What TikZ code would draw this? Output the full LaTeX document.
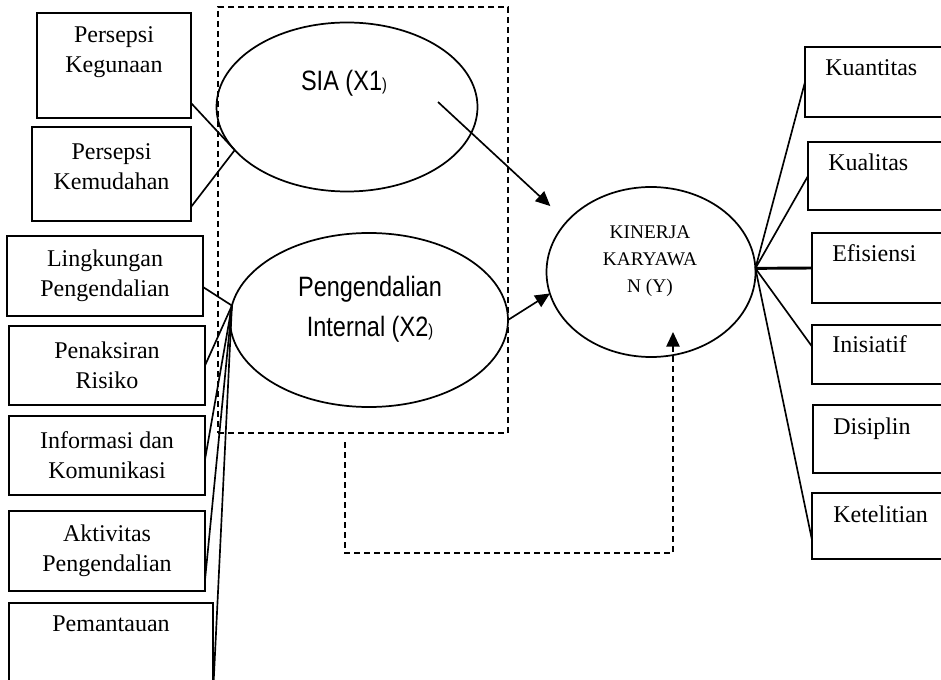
\documentclass[tikz,border=0pt]{standalone}
\usepackage{fontspec}
\setmainfont{Liberation Serif}
\newfontfamily\narrowsans[FakeStretch=0.84]{Liberation Sans}
\usetikzlibrary{arrows.meta,calc,shapes.geometric}
\tikzset{
  indbox/.style={
    draw,
    line width=1.4pt,
    inner sep=0pt,
    outer sep=0pt,
    align=center,
    font=\fontsize{18}{22.5}\selectfont
  },
  boxtext/.style={
    inner sep=0pt,
    align=center,
    font=\fontsize{18}{22.5}\selectfont
  },
  latent/.style={
    ellipse,
    draw,
    line width=1.3pt,
    inner sep=0pt,
    outer sep=0pt
  },
  sanstext/.style={
    inner sep=0pt,
    align=center,
    font=\narrowsans\fontsize{21}{30}\selectfont
  },
  grpbox/.style={
    draw,
    line width=1.4pt,
    dash pattern=on 4.5pt off 3pt,
    inner sep=0pt,
    outer sep=0pt
  },
  link/.style={line width=1.25pt},
  path/.style={
    -{Triangle[length=11pt,width=10pt]},
    line width=1.25pt
  }
}
\begin{document}
\begin{tikzpicture}[x=0.75pt, y=-0.75pt]
\useasboundingbox (0,0) rectangle (941,680);

% dashed frame round X1 and X2
\node[grpbox, minimum width=217.5pt, minimum height=319.5pt] (grp) at (363,220) {};

% latent variables
\node[latent, minimum width=195.75pt, minimum height=126.75pt] (sia) at (347,107) {};
\node[sanstext] (siat) at (344,83) {SIA (X1{\fontsize{13}{13}\selectfont )}};
\node[latent, minimum width=208.5pt, minimum height=130.5pt] (pi) at (369,320) {};
\node[sanstext] (pit) at (370,309) {Pengendalian\\Internal (X2{\fontsize{13}{13}\selectfont )}};
\node[latent, minimum width=156.75pt, minimum height=127.5pt] (kin) at (651,272) {};
\node[boxtext, font=\fontsize{14.5}{20.25}\selectfont] (kint) at (650,261) {KINERJA\\KARYAWA\\N (Y)};

% indicators of X1
\node[indbox, minimum width=115.5pt, minimum height=78.75pt] (keg) at (114,65.5) {};
\node[boxtext] (kegt) at (114,52) {Persepsi\\Kegunaan};
\node[indbox, minimum width=119.25pt, minimum height=70.5pt] (kem) at (111.5,174) {};
\node[boxtext] (kemt) at (111.5,167) {Persepsi\\Kemudahan};

% indicators of X2
\node[indbox, minimum width=147pt, minimum height=60pt] (lin) at (105,276) {Lingkungan\\Pengendalian};
\node[indbox, minimum width=147pt, minimum height=59.25pt] (pen) at (107,365.5) {Penaksiran\\Risiko};
\node[indbox, minimum width=147pt, minimum height=59.25pt] (inf) at (107,455.5) {Informasi dan\\Komunikasi};
\node[indbox, minimum width=147pt, minimum height=60pt] (akt) at (107,551) {Aktivitas\\Pengendalian};
\node[indbox, minimum width=153pt, minimum height=80.25pt] (pem) at (111,656.5) {};
\node[boxtext] (pemt) at (111,624) {Pemantauan};

% indicators of Y
\node[indbox, minimum width=116.25pt, minimum height=52.5pt] (kua) at (882.5,82) {};
\node[boxtext, anchor=base west] (kuat) at ($(kua.north west)+(20,29)$) {Kuantitas};
\node[indbox, minimum width=114pt, minimum height=51pt] (kual) at (884,176) {};
\node[boxtext, anchor=base west] (kualt) at ($(kual.north west)+(20,29)$) {Kualitas};
\node[indbox, minimum width=111pt, minimum height=52.5pt] (efi) at (886,268) {};
\node[boxtext, anchor=base west] (efit) at ($(efi.north west)+(20,29)$) {Efisiensi};
\node[indbox, minimum width=111pt, minimum height=44.25pt] (ini) at (886,354.5) {};
\node[boxtext, anchor=base west] (init) at ($(ini.north west)+(20,28)$) {Inisiatif};
\node[indbox, minimum width=110.25pt, minimum height=51pt] (dis) at (886.5,439) {};
\node[boxtext, anchor=base west] (dist) at ($(dis.north west)+(20,29)$) {Disiplin};
\node[indbox, minimum width=111pt, minimum height=49.5pt] (ket) at (886,526) {};
\node[boxtext, anchor=base west] (kett) at ($(ket.north west)+(21,29)$) {Ketelitian};

% loadings
\draw[link] ($(keg.south east)+(0,-15)$) -- (sia.201);
\draw[link] ($(kem.south east)+(0,-14)$) -- (sia.201);
\draw[link] ($(lin.east)+(0,11)$) -- (pi.174);
\draw[link] (pen.east) -- (pi.174);
\draw[link] ($(inf.east)+(0,4)$) -- (pi.174);
\draw[link] ($(akt.east)+(0,29)$) -- (pi.174);
\draw[link] ($(pem.south east)+(0,-15)$) -- (pi.174);
\draw[link] (kin.2) -- (kua.west);
\draw[link] (kin.2) -- (kual.west);
\draw[link, line width=2.2pt] (kin.2) -- (efi.west);
\draw[link] (kin.2) -- ($(ini.west)+(0,-8)$);
\draw[link] (kin.2) -- ($(ket.west)+(0,14)$);

% paths
\coordinate (s1) at (438,102);
\draw[path, shorten >=17pt] (s1) -- (kin.149);
\draw[path] (pi.0) -- (kin.192);
\draw[path, dash pattern=on 4.5pt off 3pt] ($(grp.south)+(-18,9)$) -- ++(0,111) -| ($(kin.center)+(22,60)$);
\end{tikzpicture}
\end{document}
